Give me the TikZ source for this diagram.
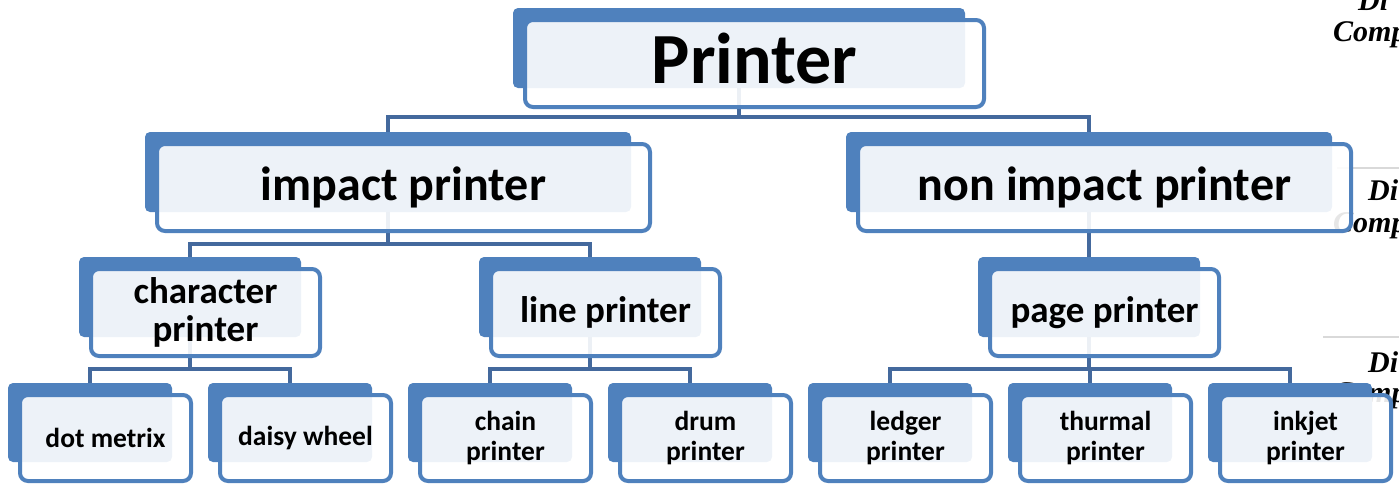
\documentclass[tikz,border=0pt]{standalone}
\usepackage{fontspec}
\setmainfont{Carlito}
\newfontfamily\cursf{Liberation Serif}
\definecolor{boxblue}{HTML}{4F81BD}
\definecolor{lineblue}{HTML}{44699D}
\definecolor{rulegray}{HTML}{D9D9D9}
\pgfdeclarelayer{bg}
\pgfsetlayers{bg,main}
% #1 name, #2 centre x, #3 top y, #4 width, #5 height, #6 font size, #7 line skip, #8 text
\newcommand\pbox[8]{%
  \node[backbox, minimum width=#4pt, minimum height=#5pt] (b#1) at (#2,{#3+#5/2}) {};
  \node[frontbox, minimum width=#4pt+7pt, minimum height=#5pt+7pt,
        font=\fontsize{#6pt}{#7pt}\selectfont\bfseries] (f#1) at ({#2+15.5},{#3+#5/2+15.5}) {#8};
}
\begin{document}
\begin{tikzpicture}[x=1pt,y=-1pt,
  backbox/.style={fill=boxblue, rounded corners=5pt, inner sep=0pt, draw=none},
  frontbox/.style={draw=boxblue, line width=4pt, fill=white, fill opacity=0.9, text opacity=1,
                   rounded corners=8pt, inner sep=0pt, align=center},
  conn/.style={draw=lineblue, line width=4pt},
  rule/.style={draw=rulegray, line width=1.5pt},
  cursive/.style={font=\cursf\itshape\bfseries\fontsize{30pt}{32pt}\selectfont, anchor=base west, inner sep=0pt}
]
\useasboundingbox (0,0) rectangle (1399,483);

% level 0
\pbox{Printer}{739}{8}{452}{80}{72}{76}{Printer\vphantom{p}}
% level 1
\pbox{Impact}{388}{132}{486}{80}{48}{52}{impact printer}
\pbox{Non}{1089}{132}{486}{80}{48}{52}{non impact printer}
% level 2
\pbox{Char}{190}{257}{222}{80}{37}{38}{character\\printer}
\pbox{Line}{590}{257}{222}{80}{37}{38}{line printer}
\pbox{Page}{1089}{257}{222}{80}{37}{38}{page printer}
% leaves
\pbox{Dot}{90}{383}{164}{79}{27.5}{30}{dot metrix}
\pbox{Daisy}{290}{383}{164}{79}{27.5}{30}{daisy wheel}
\pbox{Chain}{490}{383}{164}{79}{27.5}{30}{chain\\printer}
\pbox{Drum}{690}{383}{164}{79}{27.5}{30}{drum\\printer}
\pbox{Ledger}{890}{383}{164}{79}{27.5}{30}{ledger\\printer}
\pbox{Thurmal}{1090}{383}{164}{79}{27.5}{30}{thurmal\\printer}
\pbox{Inkjet}{1290}{383}{164}{79}{27.5}{30}{inkjet\\printer}

\begin{pgfonlayer}{bg}
  \coordinate (j0) at (739,117);
  \coordinate (j1) at (388,244);
  \coordinate (j2) at (190,369);
  \coordinate (j3) at (590,369);
  \coordinate (j4) at (1089,369);
  \draw[conn] (bPrinter.center) -- (j0);
  \draw[conn] (bImpact.north) |- (j0) -| (bNon.north);
  \draw[conn] (bImpact.center) -- (j1);
  \draw[conn] (bChar.north) |- (j1) -| (bLine.north);
  \draw[conn] (bNon.center) -- (bPage.north);
  \draw[conn] (bChar.center) -- (j2);
  \draw[conn] (bDot.north) |- (j2) -| (bDaisy.north);
  \draw[conn] (bLine.center) -- (j3);
  \draw[conn] (bChain.north) |- (j3) -| (bDrum.north);
  \draw[conn] (bPage.center) -- (j4);
  \draw[conn] (bLedger.north) |- (j4) -| (bInkjet.north);
  \draw[conn] (bThurmal.north) -- (bThurmal.north |- j4);
  % side fragments
  \coordinate (r1a) at (1337,168); \coordinate (r1b) at (1399,168);
  \coordinate (r2a) at (1323,337); \coordinate (r2b) at (1399,337);
  \draw[rule] (r1a) -- (r1b);
  \draw[rule] (r2a) -- (r2b);
  \node[cursive] (c1) at (1358,10) {Di};
  \node[cursive] (c2) at (1333,41) {Compu};
  \node[cursive] (c3) at (1368,200) {Di};
  \node[cursive] (c4) at (1333,232) {Compu};
  \node[cursive] (c5) at (1368,372) {Di};
  \node[cursive] (c6) at (1333,402) {Compu};
\end{pgfonlayer}
\end{tikzpicture}
\end{document}
